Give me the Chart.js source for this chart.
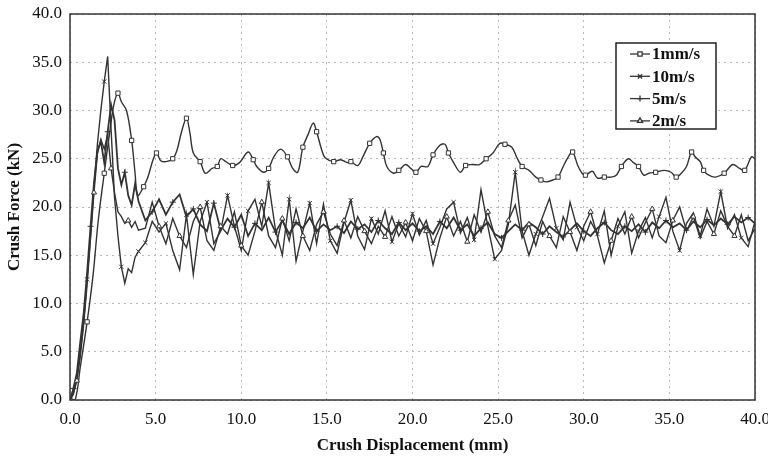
<!DOCTYPE html>
<html><head><meta charset="utf-8">
<script src="https://cdn.jsdelivr.net/npm/chart.js@4.4.1/dist/chart.umd.min.js"></script>
<style>html,body{margin:0;padding:0;background:#fff}#wrap{width:768px;height:456px}</style>
</head><body><div id="wrap"><canvas id="c" width="768" height="456"></canvas></div>
<script>
const seriesNames = ['1mm/s', '10m/s', '5m/s', '2m/s'];
const xTitle = 'Crush Displacement (mm)';
const yTitle = 'Crush Force (kN)';

// 1 mm/s curve
const dispSlow = [
  0, 0.3, 0.6, 1.0, 1.35, 1.65, 2.0, 2.3, 2.55, 2.8,
  3.0, 3.3, 3.6, 3.8, 3.95, 4.3, 4.55, 4.85, 5.05, 5.3,
  5.6, 6.0, 6.25, 6.5, 6.8, 7.0, 7.2, 7.6, 7.9, 8.3,
  8.6, 8.8, 9.1, 9.5, 9.9, 10.4, 10.7, 10.9, 11.3, 11.6,
  11.9, 12.3, 12.7, 13.0, 13.3, 13.6, 13.9, 14.2, 14.4, 14.7,
  14.9, 15.4, 15.8, 16.2, 16.4, 16.8, 17.1, 17.5, 17.9, 18.1,
  18.3, 18.5, 18.9, 19.2, 19.6, 19.9, 20.2, 20.5, 20.9, 21.2,
  21.6, 21.9, 22.1, 22.4, 22.8, 23.1, 23.5, 23.9, 24.3, 24.7,
  25.1, 25.4, 25.8, 26.1, 26.4, 26.8, 27.2, 27.5, 27.8, 28.2,
  28.5, 28.8, 29.1, 29.35, 29.65, 29.9, 30.1, 30.5, 30.8, 31.2,
  31.6, 31.9, 32.2, 32.6, 32.9, 33.2, 33.5, 33.8, 34.2, 34.7,
  35.1, 35.4, 35.7, 36.0, 36.3, 36.5, 36.8, 37.0, 37.3, 37.7,
  38.2, 38.7, 39.1, 39.4, 39.8, 40.0
];
const forceSlow = [
  0, 0, 3.4, 8.1, 13.0, 18.6, 23.5, 27.5, 30.5, 31.8,
  30.9, 30.0, 26.9, 23.5, 21.2, 22.1, 23.1, 24.9, 25.6, 24.8,
  24.7, 25.0, 25.9, 27.7, 29.2, 27.7, 25.6, 24.7, 23.5, 24.0,
  24.2, 25.0, 24.7, 24.3, 24.6, 25.7, 24.9, 24.2, 23.6, 24.0,
  25.2, 26.0, 25.2, 24.0, 23.6, 26.2, 27.5, 28.7, 27.8, 25.9,
  25.1, 24.7, 24.9, 24.6, 24.7, 24.3, 25.2, 26.6, 27.3, 27.0,
  25.6, 24.2, 23.5, 23.8, 24.4, 24.0, 23.6, 24.2, 24.2, 25.4,
  26.4, 26.5, 25.6, 24.6, 23.6, 24.3, 24.4, 24.4, 25.0, 25.6,
  26.6, 26.5, 26.2, 25.1, 24.2, 23.8, 23.1, 22.8, 22.6, 22.8,
  23.1, 24.2, 25.2, 25.7, 24.3, 23.5, 23.3, 23.7, 23.0, 23.1,
  23.1, 23.3, 24.2, 25.0, 24.6, 24.2, 23.3, 23.5, 23.6, 23.8,
  23.6, 23.1, 23.5, 24.2, 25.7, 25.2, 24.7, 23.8, 23.3, 23.1,
  23.5, 24.4, 24.0, 23.8, 25.2, 25.0
];

// shared displacement samples for the three impact-speed curves
const dispFast = [
  0, 0.2, 0.4, 0.6, 0.8, 1.0, 1.2, 1.4, 1.6, 1.8,
  2.0, 2.2, 2.4, 2.6, 2.8, 3.0, 3.2, 3.4, 3.6, 3.8,
  4.0, 4.4, 4.8, 5.2, 5.6, 6.0, 6.4, 6.8, 7.2, 7.6,
  8.0, 8.4, 8.8, 9.2, 9.6, 10.0, 10.4, 10.8, 11.2, 11.6,
  12.0, 12.4, 12.8, 13.2, 13.6, 14.0, 14.4, 14.8, 15.2, 15.6,
  16.0, 16.4, 16.8, 17.2, 17.6, 18.0, 18.4, 18.8, 19.2, 19.6,
  20.0, 20.4, 20.8, 21.2, 21.6, 22.0, 22.4, 22.8, 23.2, 23.6,
  24.0, 24.4, 24.8, 25.2, 25.6, 26.0, 26.4, 26.8, 27.2, 27.6,
  28.0, 28.4, 28.8, 29.2, 29.6, 30.0, 30.4, 30.8, 31.2, 31.6,
  32.0, 32.4, 32.8, 33.2, 33.6, 34.0, 34.4, 34.8, 35.2, 35.6,
  36.0, 36.4, 36.8, 37.2, 37.6, 38.0, 38.4, 38.8, 39.2, 39.6,
  40.0
];
const force10 = [
  0, 0.8, 2.3, 5.0, 8.2, 12.5, 17.0, 22.0, 26.5, 30.0,
  33.0, 35.6, 28.0, 21.0, 17.0, 13.8, 12.1, 13.6, 13.2, 14.8,
  15.4, 16.3, 18.5, 17.4, 18.3, 15.5, 13.5, 19.2, 13.0, 18.5,
  20.5, 16.2, 17.5, 21.2, 18.0, 15.5, 19.6, 20.8, 18.0, 22.5,
  17.6, 15.0, 20.8, 14.4, 17.5, 20.4, 16.2, 20.3, 16.5, 15.2,
  18.4, 20.7, 17.0, 15.6, 18.8, 17.2, 19.6, 16.4, 18.3, 16.9,
  19.3, 17.1, 18.6, 16.2, 17.9, 19.8, 20.5, 17.3, 18.9, 16.6,
  21.8, 18.0, 14.6, 15.5, 18.2, 23.6, 17.5, 15.0, 17.2, 19.0,
  20.9, 17.8, 16.6, 20.5, 17.9, 16.5, 18.5, 17.2, 19.6, 15.0,
  18.0, 19.5, 15.2, 17.5, 18.9, 16.8, 19.0, 21.0, 17.5, 15.5,
  18.3, 19.4, 17.0, 19.8, 18.0, 21.6, 17.8, 19.2, 16.8, 15.9,
  18.5
];
const force5 = [
  0, 1.2, 2.8, 6.0, 9.0, 13.2, 18.0, 22.5, 25.8, 26.8,
  24.6, 27.8, 30.6, 29.0, 24.0, 22.3, 23.6, 21.2, 20.2, 22.4,
  20.6, 18.6, 19.5, 20.8, 19.2, 20.5, 21.3, 19.0, 19.8, 18.2,
  17.5, 20.4, 17.6, 18.8, 17.9, 19.2, 17.0, 18.3, 17.6, 18.9,
  17.4, 18.6, 17.2, 18.4, 17.8, 18.9, 17.5, 18.2, 17.6, 18.0,
  17.3, 18.5, 17.7, 18.2, 17.4, 18.6, 17.8, 17.2, 18.4, 17.6,
  18.3, 17.5, 18.0, 17.2, 18.5, 17.8, 18.9, 17.6, 18.2, 17.0,
  17.8, 18.4, 17.2, 16.8, 17.5, 18.2, 17.6, 18.4, 17.9, 17.2,
  18.0, 17.4, 16.9, 17.6, 18.3, 17.5, 17.0, 17.8, 18.4, 17.6,
  17.2, 18.0, 17.5, 18.2, 17.4, 18.4, 17.8, 18.6, 17.9, 18.3,
  17.6, 18.5, 17.9, 18.7, 18.1, 18.8, 18.2, 19.0, 18.4, 18.9,
  18.3
];
const force2 = [
  0, 0.6, 2.0, 4.5, 7.8, 12.0, 16.8, 21.5, 25.5, 27.0,
  26.0, 27.5, 24.0, 21.5, 19.5, 19.0, 18.3, 18.6, 17.9, 18.5,
  17.6, 17.8, 20.5, 18.0, 16.2, 18.8, 17.0, 15.8, 18.5, 20.0,
  16.5, 15.5, 18.0, 17.2, 19.5, 16.0, 15.0, 17.5, 20.5, 17.0,
  15.8, 18.8, 16.5, 19.8, 17.0, 15.5, 18.2, 19.5, 17.2, 16.0,
  18.6, 16.8, 19.0, 17.5, 16.2, 18.0, 16.9, 19.0, 17.0, 18.4,
  16.5, 18.8, 17.5, 14.0, 16.8, 19.0, 17.0, 18.5, 16.4, 19.2,
  17.4, 19.5, 17.0, 15.8, 18.6, 20.2, 16.8, 18.2, 16.0, 18.5,
  17.0, 15.8, 19.0, 17.4, 15.5, 18.0, 19.5, 17.0, 14.2, 16.5,
  18.8, 17.2, 19.0, 16.8, 18.4, 19.8, 17.0, 16.3, 18.6, 20.0,
  17.5, 19.0, 16.8, 18.5, 17.2, 19.6, 18.0, 17.0, 19.2, 16.5,
  17.8
];
const axisMin = 0, axisMax = 40, tickStep = 5;

function pts(xs, ys) {
  const n = Math.min(xs.length, ys.length);
  const out = [];
  for (let i = 0; i < n; i++) out.push({ x: xs[i], y: ys[i] });
  return out;
}
function markerEvery(offset, denseEnd) {
  return (ctx) => {
    const i = ctx.dataIndex;
    if (i < denseEnd) return (i % 5 === offset % 5) ? 3 : 0;
    return ((i - denseEnd) % 3 === offset % 3) ? 3 : 0;
  };
}
const lineCol = '#333333';
const FONT = "'Liberation Serif', 'DejaVu Serif', serif";

const datasets = [
  { label: seriesNames[0], data: pts(dispSlow, forceSlow), pointStyle: 'rect', tension: 0.35,
    pointRadius: markerEvery(0, 3), order: 4 },
  { label: seriesNames[1], data: pts(dispFast, force10), pointStyle: 'crossRot', tension: 0,
    pointRadius: markerEvery(0, 21), order: 3 },
  { label: seriesNames[2], data: pts(dispFast, force5), pointStyle: 'cross', tension: 0,
    pointRadius: markerEvery(1, 21), order: 2, borderWidth: 1.8 },
  { label: seriesNames[3], data: pts(dispFast, force2), pointStyle: 'triangle', tension: 0,
    pointRadius: markerEvery(2, 21), order: 1 }
].map(d => Object.assign({
  borderColor: lineCol, borderWidth: 1.4, backgroundColor: '#fff',
  pointBorderColor: lineCol, pointBackgroundColor: '#fff', pointBorderWidth: 1,
  pointHoverRadius: 0, fill: false
}, d));

const framePlugin = {
  id: 'frameLegend',
  afterDraw(chart) {
    const { ctx, chartArea: a } = chart;
    ctx.save();
    ctx.strokeStyle = '#333';
    ctx.lineWidth = 1.5;
    ctx.strokeRect(a.left, a.top, a.right - a.left, a.bottom - a.top);
    // legend box
    const bx = a.right - 139, by = a.top + 29, bw = 100, bh = 86;
    ctx.fillStyle = '#fff';
    ctx.fillRect(bx, by, bw, bh);
    ctx.strokeStyle = '#222';
    ctx.lineWidth = 1.5;
    ctx.strokeRect(bx, by, bw, bh);
    ctx.font = "bold 17px " + FONT;
    ctx.textBaseline = 'middle';
    ctx.textAlign = 'left';
    chart.data.datasets.forEach((ds, i) => {
      const y = by + 11 + i * 22.3;
      ctx.strokeStyle = lineCol;
      ctx.lineWidth = 1.3;
      ctx.beginPath();
      ctx.moveTo(bx + 14, y);
      ctx.lineTo(bx + 34, y);
      ctx.stroke();
      ctx.fillStyle = '#fff';
      Chart.helpers.drawPoint(ctx, { pointStyle: ds.pointStyle, radius: 3, borderWidth: 1, rotation: 0 }, bx + 24, y);
      ctx.fillStyle = '#111';
      ctx.fillText(ds.label, bx + 36, y + 1);
    });
    ctx.restore();
  }
};

new Chart(document.getElementById('c'), {
  type: 'line',
  data: { datasets },
  options: {
    responsive: false,
    animation: false,
    devicePixelRatio: 1,
    layout: { padding: { left: 4, right: 13, top: 14, bottom: 0 } },
    plugins: { legend: { display: false }, tooltip: { enabled: false } },
    scales: {
      x: {
        type: 'linear', min: axisMin, max: axisMax,
        ticks: { stepSize: tickStep, color: '#111', padding: 9,
          font: { family: FONT, size: 17 }, callback: v => Number(v).toFixed(1), maxRotation: 0 },
        grid: { color: '#b8b8b8', lineWidth: 1, drawTicks: false },
        border: { display: false, dash: [2, 4] },
        title: { display: true, text: xTitle, color: '#111', padding: { top: 2, bottom: 0 },
          font: { family: FONT, size: 17, weight: 'bold' } },
        afterFit: s => { s.height = 56; s.paddingLeft = 0; s.paddingRight = 0; }
      },
      y: {
        min: axisMin, max: axisMax,
        ticks: { stepSize: tickStep, color: '#111', padding: 8,
          font: { family: FONT, size: 17 }, callback: v => Number(v).toFixed(1) },
        grid: { color: '#b8b8b8', lineWidth: 1, drawTicks: false },
        border: { display: false, dash: [2, 4] },
        title: { display: true, text: yTitle, color: '#111', padding: { top: 0, bottom: 0 },
          font: { family: FONT, size: 17, weight: 'bold' } },
        afterFit: s => { s.width = 66; s.paddingTop = 0; s.paddingBottom = 0; }
      }
    }
  },
  plugins: [framePlugin]
});
</script>
</body></html>
